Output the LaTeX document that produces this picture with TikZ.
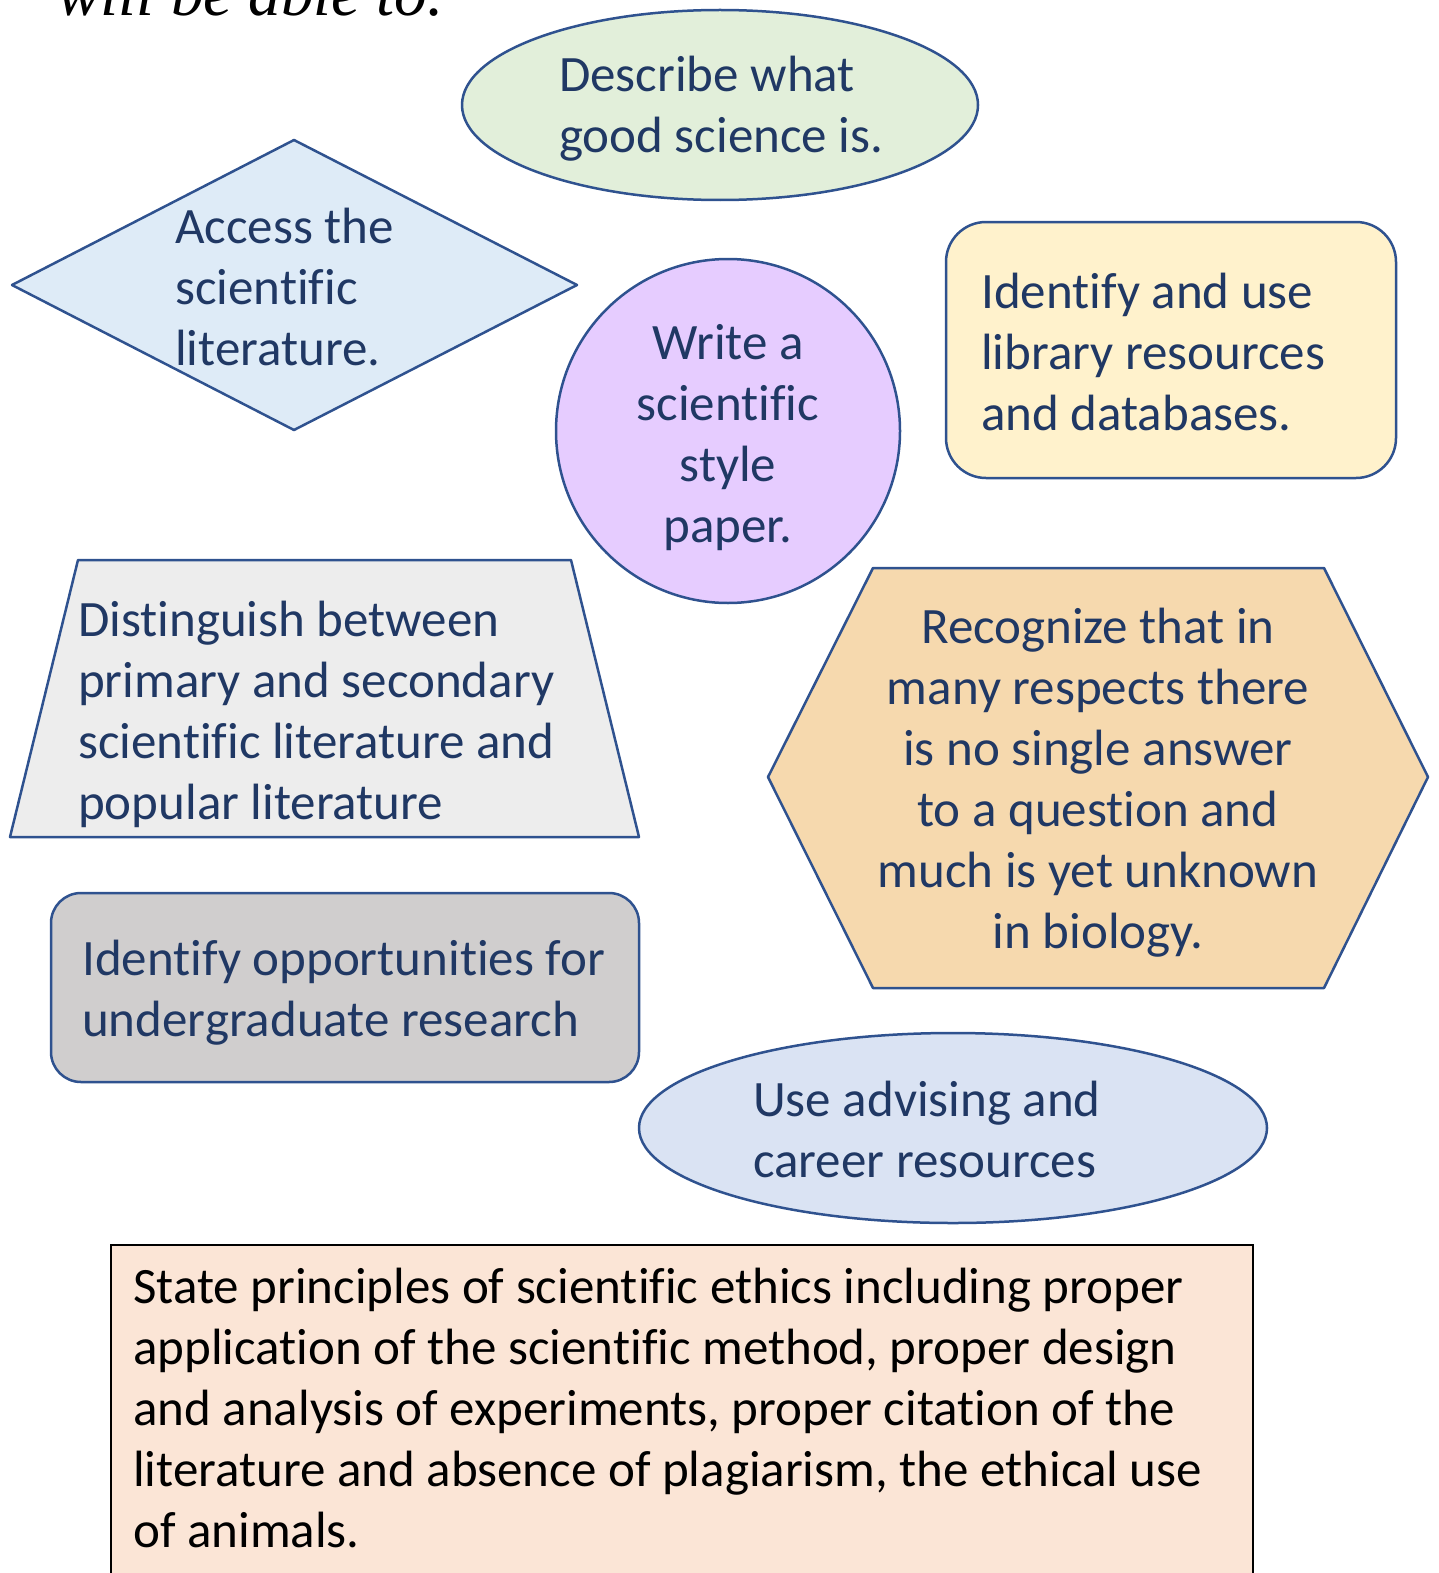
\documentclass[tikz,border=0pt]{standalone}
\usepackage{fontspec}
\setmainfont{Carlito}[Ligatures=NoCommon]
\newfontfamily\titlefont{Liberation Serif}
\definecolor{edgeblue}{HTML}{2F528F}
\definecolor{navy}{HTML}{203864}
\definecolor{fgreen}{HTML}{E2EFDA}
\definecolor{fblue}{HTML}{DEEBF7}
\definecolor{flav}{HTML}{E6CCFF}
\definecolor{fyellow}{HTML}{FFF2CC}
\definecolor{fgrey}{HTML}{EDEDED}
\definecolor{ftan}{HTML}{F6D9AE}
\definecolor{fdgrey}{HTML}{D0CECE}
\definecolor{fpale}{HTML}{DAE3F3}
\definecolor{fpeach}{HTML}{FBE5D6}
\tikzset{
  shapeline/.style={draw=edgeblue, line width=2.5pt, line join=round},
  txt/.style={font=\fontsize{51}{61}\selectfont, text=navy, inner sep=0pt,
    anchor=north west, align=left, yshift=34pt, execute at begin node=\strut},
  ctxt/.style={txt, anchor=north, align=center},
}
\begin{document}
\begin{tikzpicture}[x=1pt,y=-1pt]
\useasboundingbox (0,0) rectangle (1438,1573);
\clip (0,0) rectangle (1438,1573);
% title fragment
\node[font=\titlefont\itshape\fontsize{65}{72}\selectfont, anchor=base west, inner sep=0pt] (title) at (57,16) {will be able to.};
% shapes
\draw[shapeline, fill=fgreen] (720,105) ellipse [x radius=258, y radius=95];
\draw[shapeline, fill=fblue] (12,285) -- (294,140) -- (577,285) -- (294,430) -- cycle;
\draw[shapeline, fill=flav] (728,431) circle [radius=172];
\draw[shapeline, fill=fyellow, rounded corners=40pt] (946,222) rectangle (1396,478);
\draw[shapeline, fill=fgrey] (78,560) -- (571,560) -- (639,837) -- (10,837) -- cycle;
\draw[shapeline, fill=ftan] (768,777) -- (873,568) -- (1324,568) -- (1428,777) -- (1324,988) -- (873,988) -- cycle;
\draw[shapeline, fill=fdgrey, rounded corners=30pt] (51,893) rectangle (639,1082);
\draw[shapeline, fill=fpale] (953,1128) ellipse [x radius=314, y radius=95];
\draw[draw=black, line width=1.5pt, fill=fpeach] (111,1245) rectangle (1253,1620);
% texts
\node[txt] (good) at (559,90) {Describe what\\good science is.};
\node[txt] (access) at (175,242) {Access the\\scientific\\literature.};
\node[ctxt] (write) at (728,358) {Write a\\scientific\\style\\paper.};
\node[txt] (library) at (981,307) {Identify and use\\library resources\\and databases.};
\node[txt] (distinguish) at (78,635) {Distinguish between\\primary and secondary\\scientific literature and\\popular literature};
\node[ctxt] (recognize) at (1098,642) {Recognize that in\\many respects there\\is no single answer\\to a question and\\much is yet unknown\\in biology.};
\node[txt] (research) at (82,974) {Identify opportunities for\\undergraduate research};
\node[txt] (advising) at (753,1115) {Use advising and\\career resources};
\node[txt, text=black] (ethics) at (133,1302) {State principles of scientific ethics including proper\\application of the scientific method, proper design\\and analysis of experiments, proper citation of the\\literature and absence of plagiarism, the ethical use\\of animals.};
\end{tikzpicture}
\end{document}
